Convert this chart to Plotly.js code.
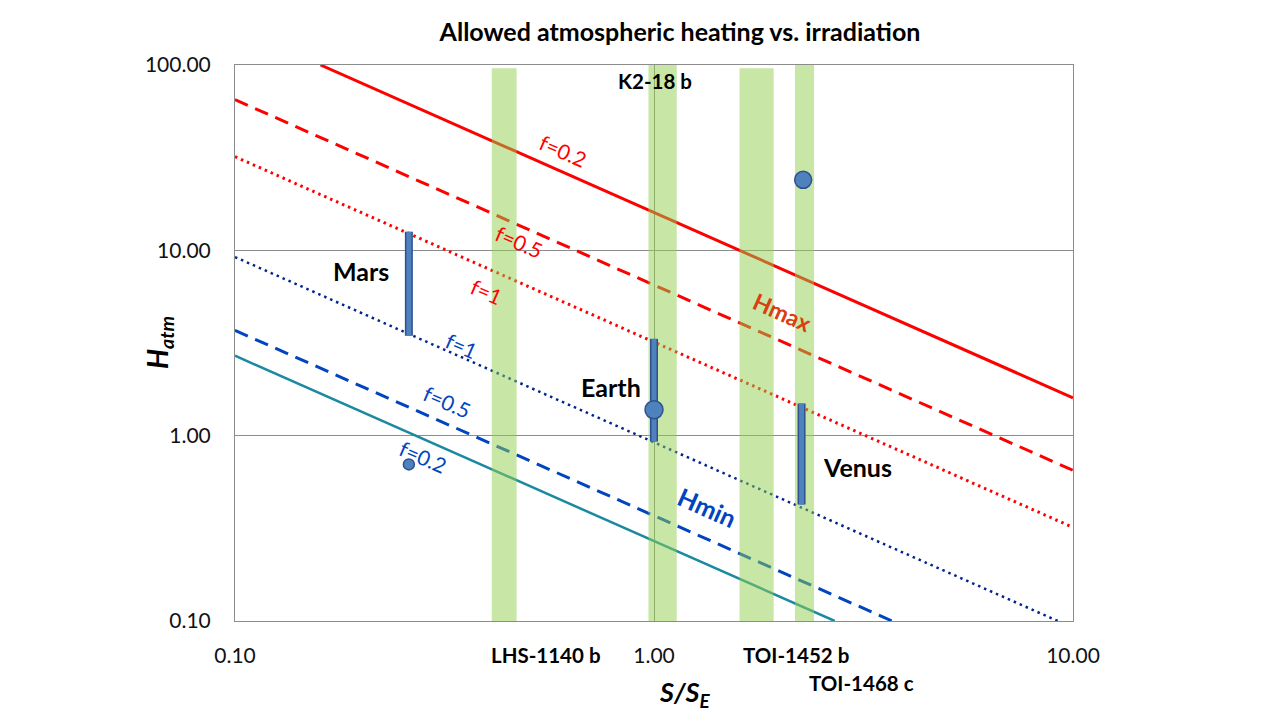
<!DOCTYPE html>
<html>
<head>
<meta charset="utf-8">
<script src="https://cdn.plot.ly/plotly-3.0.1.min.js"></script>
<style>html,body{margin:0;padding:0;background:#fff;}#chart{width:1280px;height:720px;}</style>
</head>
<body>
<div id="chart"></div>
<script>
// ---- Data ----
// Model lines (end points, S/S_E and H_atm)
const hmax02S = [0.16, 10];  const hmax02H = [100, 1.6];
const hmax05S = [0.1, 10];   const hmax05H = [65, 0.65];
const hmax1S  = [0.1, 10];   const hmax1H  = [32, 0.32];
const hmin1S  = [0.1, 9.2];  const hmin1H  = [9.2, 0.1];
const hmin05S = [0.1, 3.7];  const hmin05H = [3.7, 0.1];
const hmin02S = [0.1, 2.7];  const hmin02H = [2.7, 0.1];

// Exoplanet irradiation bands
const bandNames = ["LHS-1140 b", "K2-18 b", "TOI-1452 b", "TOI-1468 c"];
const bandSmin  = [0.41, 0.97, 1.60, 2.17];
const bandSmax  = [0.47, 1.133, 1.93, 2.41];
const bandHlow  = [0.1, 0.1, 0.1, 0.1];
const bandHhigh = [96, 100, 96, 100];

// Solar-system planets: ranges and points
const planetNames = ["Mars", "Earth", "Venus"];
const planetS     = [0.26, 1.0, 2.25];
const planetHlow  = [3.46, 0.93, 0.425];
const planetHhigh = [12.6, 3.33, 1.49];
const pointS    = [0.26, 1.0, 2.27];
const pointH    = [0.70, 1.38, 24];
const pointSize = [11, 18, 17];

const xTicks = [0.1, 1, 10];
const yTicks = [0.1, 1, 10, 100];

// ---- Build traces ----
const traces = [];
function line(xs, ys, color, width, dash){
  traces.push({x: xs, y: ys, type: 'scatter', mode: 'lines',
    line: {color: color, width: width, dash: dash}, hoverinfo: 'skip', showlegend: false});
}
line(hmax02S, hmax02H, '#ff0000', 3, 'solid');
line(hmax05S, hmax05H, '#ff0000', 3, '14px,8px');
line(hmax1S,  hmax1H,  '#ff0000', 3, '2.5px,4px');
line(hmin1S,  hmin1H,  '#00248f', 2.5, '2.5px,4px');
line(hmin05S, hmin05H, '#0044c0', 3, '14px,8px');
line(hmin02S, hmin02H, '#1b8aa0', 2.5, 'solid');

// bands drawn above the lines
for (let i = 0; i < bandNames.length; i++) {
  traces.push({
    x: [bandSmin[i], bandSmax[i], bandSmax[i], bandSmin[i], bandSmin[i]],
    y: [bandHlow[i], bandHlow[i], bandHhigh[i], bandHhigh[i], bandHlow[i]],
    type: 'scatter', mode: 'lines', fill: 'toself',
    fillcolor: 'rgba(146,208,80,0.5)', line: {width: 0},
    name: bandNames[i], hoverinfo: 'skip', showlegend: false
  });
}
// planet ranges (outlined bars)
for (let i = 0; i < planetNames.length; i++) {
  traces.push({x: [planetS[i], planetS[i]], y: [planetHlow[i], planetHhigh[i]],
    type: 'scatter', mode: 'lines', line: {color: '#2f528f', width: 8},
    hoverinfo: 'skip', showlegend: false});
  traces.push({x: [planetS[i], planetS[i]], y: [planetHlow[i], planetHhigh[i]],
    type: 'scatter', mode: 'lines', line: {color: '#4f81bd', width: 5},
    hoverinfo: 'skip', showlegend: false, name: planetNames[i]});
}
traces.push({x: pointS, y: pointH, type: 'scatter', mode: 'markers',
  marker: {size: pointSize, color: '#4f81bd', opacity: 1, line: {color: '#2f528f', width: 1.5}},
  hoverinfo: 'skip', showlegend: false});

// ---- Annotations (placed by pixel position within the figure) ----
const FONT = 'Lato, "Open Sans", sans-serif';
const PX0 = 235, PX1 = 1073, PY0 = 65, PY1 = 621;
const ANG = 23.9;
const ann = [];
function txt(px, py, text, color, size, angle, bold, italic){
  let t = text;
  if (italic) t = '<i>' + t + '</i>';
  if (bold) t = '<b>' + t + '</b>';
  ann.push({x: (px - PX0) / (PX1 - PX0), y: (PY1 - py) / (PY1 - PY0), xref: 'paper', yref: 'paper',
    text: t, showarrow: false, textangle: angle || 0,
    font: {family: FONT, size: size, color: color}, xanchor: 'center', yanchor: 'middle'});
}
// curve labels
txt(563, 150, 'f=0.2', '#ff0000', 21, ANG);
txt(519, 241, 'f=0.5', '#ff0000', 21, ANG);
txt(487, 291, 'f=1', '#ff0000', 21, ANG);
txt(782, 312, 'Hmax', '#d93f0f', 23, ANG, true);
txt(462, 345, 'f=1', '#0044c0', 21, ANG);
txt(447, 401, 'f=0.5', '#0044c0', 21, ANG);
txt(423, 456, 'f=0.2', '#0044c0', 21, ANG);
txt(707, 507, 'Hmin', '#0044c0', 25, ANG, true);
// planet labels
txt(361, 271, 'Mars', '#000', 25, 0, true);
txt(611, 387, 'Earth', '#000', 25, 0, true);
txt(857, 467, 'Venus', '#000', 25, 0, true);
txt(655, 81, 'K2-18 b', '#000', 20.5, 0, true);
// band labels under the axis
txt(546, 655, 'LHS-1140 b', '#000', 20.5, 0, true);
txt(796, 655, 'TOI-1452 b', '#000', 20.5, 0, true);
txt(861, 683, 'TOI-1468 c', '#000', 20.5, 0, true);
// axis titles
txt(159, 343, 'H<sub>atm</sub>', '#000', 28, -90, true, true);
txt(684, 693, 'S/S<sub>E</sub>', '#000', 27, 0, true, true);

const layout = {
  width: 1280, height: 720,
  margin: {l: PX0, r: 1280 - PX1, t: PY0, b: 720 - PY1, pad: 0},
  paper_bgcolor: '#fff', plot_bgcolor: '#fff',
  showlegend: false,
  title: {text: '<b>Allowed atmospheric heating vs. irradiation</b>',
    x: (680 - PX0) / (PX1 - PX0), xref: 'paper', y: 1 - 32 / 720, yref: 'container',
    xanchor: 'center', yanchor: 'middle',
    font: {family: FONT, size: 25, color: '#000'}},
  xaxis: {type: 'log', range: [-1, 1], tickvals: xTicks, tickformat: '.2f',
    showgrid: true, gridcolor: '#8c8c8c', gridwidth: 1,
    showline: true, linecolor: '#8c8c8c', linewidth: 1, mirror: true,
    zeroline: false, ticks: 'outside', ticklen: 16, tickcolor: 'rgba(0,0,0,0)',
    tickfont: {family: FONT, size: 21, color: '#111'}, fixedrange: true},
  yaxis: {type: 'log', range: [-1, 2], tickvals: yTicks, tickformat: '.2f',
    showgrid: true, gridcolor: '#8c8c8c', gridwidth: 1,
    showline: true, linecolor: '#8c8c8c', linewidth: 1, mirror: true,
    zeroline: false, ticks: 'outside', ticklen: 19, tickcolor: 'rgba(0,0,0,0)',
    tickfont: {family: FONT, size: 21, color: '#111'}, fixedrange: true},
  annotations: ann
};

Plotly.newPlot('chart', traces, layout, {staticPlot: true, displayModeBar: false});
</script>
</body>
</html>
